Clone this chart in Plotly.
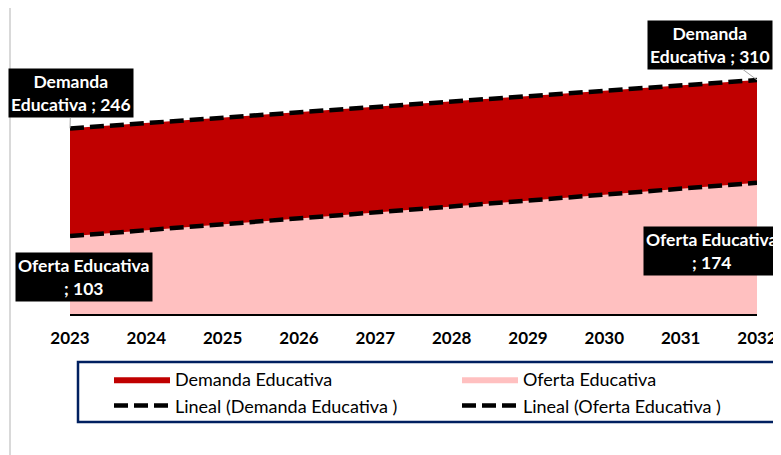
import plotly.graph_objects as go

years = [2023, 2024, 2025, 2026, 2027, 2028, 2029, 2030, 2031, 2032]
demanda = [246, 253, 260, 267, 274, 281, 288, 296, 303, 310]
oferta = [103, 111, 119, 127, 135, 142, 150, 158, 166, 174]
tick_labels = [str(y) for y in years]

def trend(xs, ys):
    n = len(xs)
    mx = sum(xs) / n
    my = sum(ys) / n
    b = sum((x - mx) * (y - my) for x, y in zip(xs, ys)) / sum((x - mx) ** 2 for x in xs)
    a = my - b * mx
    return [a + b * x for x in xs]

FONT = "Lato"
W, H = 773, 447          # page adds an 8px body margin
L, R, T, B = 62, 24, 4, 141
PW, PH = W - L - R, H - T - B

def px(fx):
    return (fx - L) / PW

def py(fy):
    return (H - B - fy) / PH

DASH = "14px,6px"
fig = go.Figure()
fig.add_trace(go.Scatter(x=years, y=demanda, name="Demanda Educativa", mode="lines",
                         line=dict(width=0, color="#C00000"), fill="tozeroy",
                         fillcolor="#C00000", legend="legend"))
fig.add_trace(go.Scatter(x=years, y=oferta, name="Oferta Educativa", mode="lines",
                         line=dict(width=0, color="#FFC0C0"), fill="tozeroy",
                         fillcolor="#FFC0C0", legend="legend2"))
fig.add_trace(go.Scatter(x=years, y=trend(years, demanda), name="Lineal (Demanda Educativa )",
                         mode="lines", line=dict(color="black", width=4.5, dash=DASH),
                         legend="legend"))
fig.add_trace(go.Scatter(x=years, y=trend(years, oferta), name="Lineal (Oferta Educativa )",
                         mode="lines", line=dict(color="black", width=4.5, dash=DASH),
                         legend="legend2"))

lab_font = dict(family=FONT, size=17.5, color="white", weight="bold")
ann = [
    (years[0], demanda[0], "Demanda<br>Educativa ; %d" % demanda[0], 1, -35, "#A6A6A6"),
    (years[-1], demanda[-1], "Demanda<br>Educativa ; %d" % demanda[-1], -47, -35, "#A6A6A6"),
    (years[0], oferta[0], "Oferta Educativa<br>; %d" % oferta[0], 14, 41, "rgba(0,0,0,0)"),
    (years[-1], oferta[-1], "Oferta Educativa<br>; %d" % oferta[-1], -45, 68, "rgba(0,0,0,0)"),
]
for x, y, t, ax, ay, ac in ann:
    fig.add_annotation(x=x, y=y, text=t, ax=ax, ay=ay, showarrow=True, arrowhead=0,
                       arrowcolor=ac, arrowwidth=1, bgcolor="black", font=lab_font,
                       borderpad=2, align="center")

# chart border (gray, top and left)
fig.add_shape(type="line", xref="paper", yref="paper", x0=px(2), x1=px(W + 5), y0=py(-3), y1=py(-3),
              line=dict(color="#D9D9D9", width=2))
fig.add_shape(type="line", xref="paper", yref="paper", x0=px(2), x1=px(2), y0=py(-3), y1=py(H + 5),
              line=dict(color="#D9D9D9", width=2))
# legend frame
fig.add_shape(type="rect", xref="paper", yref="paper", x0=px(70), x1=px(769), y0=py(354), y1=py(414),
              line=dict(color="#002060", width=2.5), fillcolor="rgba(0,0,0,0)")

leg_common = dict(orientation="v", xref="container", yref="container", xanchor="left",
                  yanchor="top", bgcolor="rgba(0,0,0,0)", borderwidth=0,
                  font=dict(family=FONT, size=18, color="black"), itemwidth=56,
                  tracegroupgap=0)
fig.update_layout(
    width=W, height=H,
    margin=dict(l=L, r=R, t=T, b=B, autoexpand=False),
    paper_bgcolor="white", plot_bgcolor="white",
    font=dict(family=FONT, size=14, color="black"),
    showlegend=True,
    legend=dict(x=101 / W, y=1 - 353 / H, **leg_common),
    legend2=dict(x=449 / W, y=1 - 353 / H, **leg_common),
)
fig.update_xaxes(range=[2023, 2032], tickvals=years, ticktext=tick_labels, showgrid=False,
                 zeroline=False, showline=False,
                 tickfont=dict(family=FONT, size=17, color="black", weight="bold"), ticks="",
                 ticklabelstandoff=12)
fig.update_yaxes(range=[0, 400], showgrid=False, zeroline=True, zerolinecolor="black",
                 zerolinewidth=4, showticklabels=False, showline=False)

fig.write_html("out.html")
